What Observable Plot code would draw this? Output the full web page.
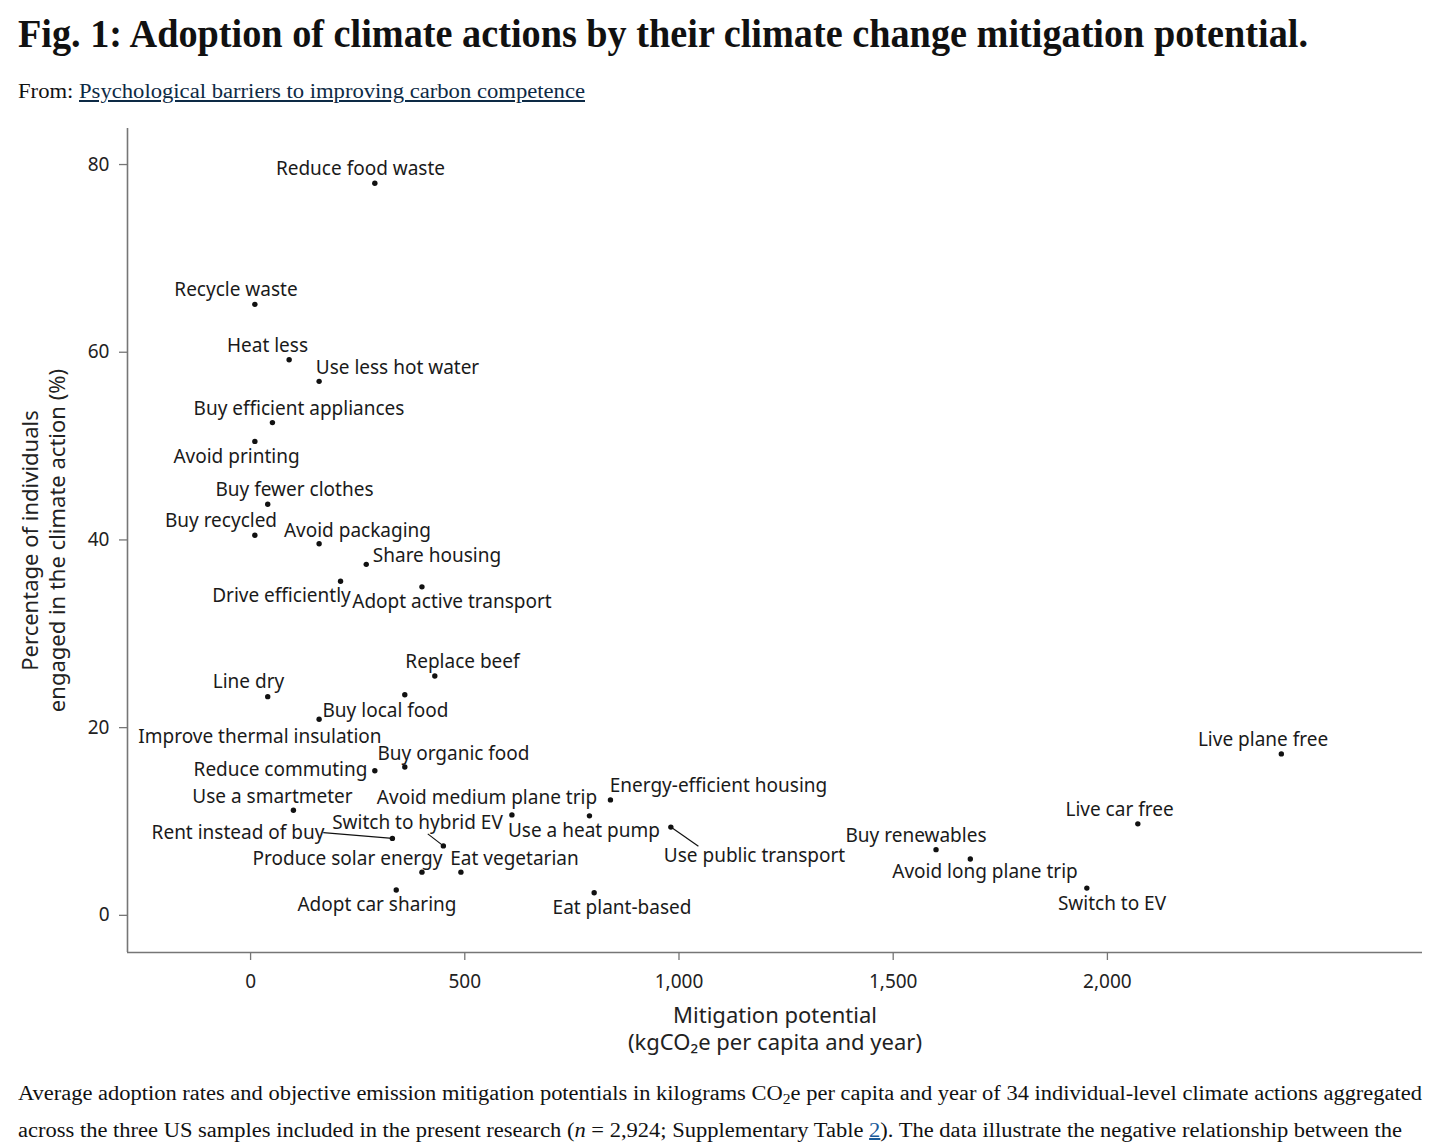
<!DOCTYPE html>
<html>
<head>
<meta charset="utf-8">
<script src="https://cdn.jsdelivr.net/npm/d3@7"></script>
<script src="https://cdn.jsdelivr.net/npm/@observablehq/plot@0.6"></script>
<style>
  html, body { margin: 0; padding: 0; background: #fff; }
  body { width: 1456px; height: 1147px; position: relative; overflow: hidden; }
  .fit { position: absolute; left: 18px; white-space: nowrap; display: inline-block; transform-origin: 0 0; color: #111; }
  #title { top: 13px; font: bold 41px/41px "Liberation Serif", serif; }
  #sub { top: 81px; font: 20px/20px "Liberation Serif", serif; }
  #sub a { color: #0d2a45; text-decoration: underline; text-underline-offset: 2px; }
  .cap { font: 20px/20px "Liberation Serif", serif; }
  #cap1 { top: 1083px; }
  #cap2 { top: 1120px; }
  .cap a { color: #1a5a9a; text-decoration: underline; }
  sub { font-size: 0.7em; vertical-align: -0.25em; line-height: 0; }
  #chart { position: absolute; left: 0; top: 110px; }
</style>
</head>
<body>
<div id="title" class="fit" data-w="1290">Fig. 1: Adoption of climate actions by their climate change mitigation potential.</div>
<div id="sub" class="fit" data-w="567">From: <a>Psychological barriers to improving carbon competence</a></div>
<div id="chart"></div>
<div id="cap1" class="fit cap" data-w="1404">Average adoption rates and objective emission mitigation potentials in kilograms CO<sub>2</sub>e per capita and year of 34 individual-level climate actions aggregated</div>
<div id="cap2" class="fit cap" data-w="1384">across the three US samples included in the present research (<i>n</i> = 2,924; Supplementary Table <a>2</a>). The data illustrate the negative relationship between the</div>
<script>
// ---- data ----
const actions = ["Reduce food waste", "Recycle waste", "Heat less", "Use less hot water", "Buy efficient appliances",
  "Avoid printing", "Buy fewer clothes", "Buy recycled", "Avoid packaging", "Share housing", "Drive efficiently",
  "Adopt active transport", "Replace beef", "Line dry", "Buy local food", "Improve thermal insulation",
  "Reduce commuting", "Buy organic food", "Use a smartmeter", "Rent instead of buy", "Avoid medium plane trip",
  "Use a heat pump", "Energy-efficient housing", "Switch to hybrid EV", "Produce solar energy", "Eat vegetarian",
  "Adopt car sharing", "Eat plant-based", "Use public transport", "Buy renewables", "Avoid long plane trip",
  "Live car free", "Switch to EV", "Live plane free"];
const mitigation = [290, 10, 90, 160, 51, 10, 40, 10, 160, 270, 210, 400, 430, 40, 360, 160, 290, 360, 100, 331,
  610, 791, 840, 450, 400, 491, 340, 802, 981, 1600, 1680, 2071, 1952, 2406];
const adoption = [78.0, 65.1, 59.2, 56.9, 52.5, 50.5, 43.8, 40.5, 39.6, 37.4, 35.6, 35.0, 25.5, 23.3, 23.5, 20.9,
  15.4, 15.8, 11.2, 8.2, 10.7, 10.6, 12.3, 7.4, 4.6, 4.6, 2.7, 2.4, 9.4, 7.0, 6.0, 9.75, 2.9, 17.2];
// repelled label anchors (data units, label centre)
const labelX = [256.5, -34.1, 39.4, 342.9, 113.0, -32.9, 102.5, -69.1, 249.5, 435.1, 72.1, 470.1, 494.6, -4.9,
  314.9, 21.9, 69.8, 473.6, 51.1, -29.4, 551.8, 778.2, 1092.2, 389.6, 226.2, 616.0, 295.1, 867.0, 1176.2,
  1553.2, 1714.3, 2028.3, 2010.7, 2363.2];
const labelY = [79.5, 66.6, 60.7, 58.3, 54.0, 48.8, 45.3, 42.0, 41.0, 38.3, 34.0, 33.4, 27.0, 24.9, 21.8, 19.0,
  15.5, 17.2, 12.6, 8.83, 12.5, 9.02, 13.83, 9.9, 6.05, 6.05, 1.15, 0.83, 6.3, 8.5, 4.67, 11.27, 1.26, 18.73];
// leader segments: action, far end (data units)
const leaderActions = ["Rent instead of buy", "Switch to hybrid EV", "Use public transport"];
const leaderX2 = [169.7, 413.6, 1045.3];
const leaderY2 = [8.82, 8.68, 7.36];
const xTicks = [0, 500, 1000, 1500, 2000];
const yTicks = [0, 20, 40, 60, 80];
const xDomain = [-287.3, 2735.5];
const yDomain = [-3.96, 83.84];
const xTitle = "Mitigation potential\n(kgCO\u2082e per capita and year)";
const yTitle = "Percentage of individuals\nengaged in the climate action (%)";

const data = actions.map((name, i) => ({name, x: mitigation[i], y: adoption[i], lx: labelX[i], ly: labelY[i]}));
const leaders = leaderActions.map((name, i) => {
  const d = data.find(e => e.name === name);
  return {x1: d.x, y1: d.y, x2: leaderX2[i], y2: leaderY2[i]};
});

const axisGray = "#767676";
const chart = Plot.plot({
  width: 1456,
  height: 955,
  marginLeft: 127,
  marginRight: 34,
  marginTop: 18,
  marginBottom: 113,
  style: {fontFamily: "'Noto Sans', sans-serif", fontSize: "19px", color: "#1a1a1a", background: "#fff"},
  x: {domain: xDomain},
  y: {domain: yDomain},
  marks: [
    Plot.ruleX([xDomain[0]], {stroke: axisGray, strokeWidth: 1.6}),
    Plot.ruleY([yDomain[0]], {stroke: axisGray, strokeWidth: 1.6}),
    Plot.axisX({ticks: xTicks, tickFormat: d3.format(","), tickSize: 8, tickPadding: 14, stroke: axisGray, strokeWidth: 1.3, fill: "#222", label: null}),
    Plot.axisY({ticks: yTicks, tickSize: 8, tickPadding: 10, stroke: axisGray, strokeWidth: 1.3, fill: "#222", label: null}),
    Plot.link(leaders, {x1: "x1", y1: "y1", x2: "x2", y2: "y2", stroke: "#111", strokeWidth: 1.2}),
    Plot.dot(data, {x: "x", y: "y", r: 2.7, fill: "#111", stroke: null}),
    Plot.text(data, {x: "lx", y: "ly", text: "name", fill: "#1a1a1a"}),
    Plot.text([xTitle], {frameAnchor: "bottom", text: d => d, textAnchor: "middle", lineAnchor: "top", dy: 51, fontSize: 22, lineHeight: 1.227, fill: "#222"}),
    Plot.text([yTitle], {frameAnchor: "left", text: d => d, rotate: -90, textAnchor: "middle", lineAnchor: "top", dx: -109, fontSize: 22, lineHeight: 1.227, fill: "#222"})
  ]
});
document.getElementById("chart").appendChild(chart);

// fit header/caption lines to their measured widths
document.querySelectorAll(".fit").forEach(el => {
  const w = el.getBoundingClientRect().width;
  const target = +el.dataset.w;
  if (w > 0) el.style.transform = `scaleX(${target / w})`;
});
</script>
</body>
</html>
